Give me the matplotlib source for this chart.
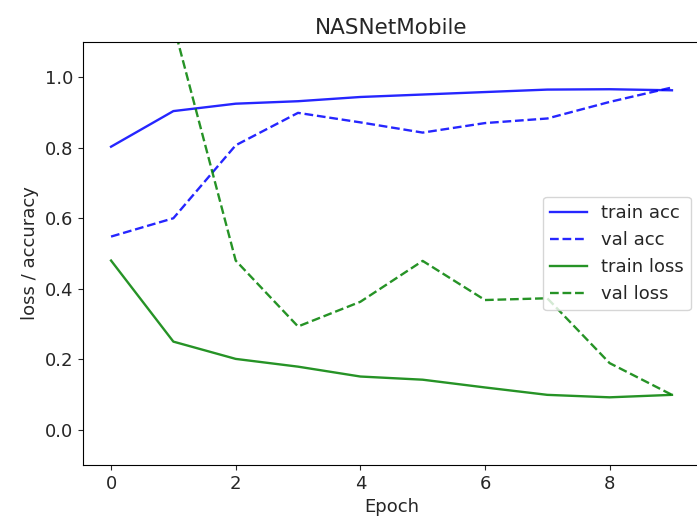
import matplotlib
matplotlib.use("Agg")
import matplotlib.pyplot as plt
import numpy as np

epochs = np.arange(10)
train_acc = [0.803, 0.904, 0.925, 0.932, 0.944, 0.951, 0.958, 0.965, 0.966, 0.963]
val_acc = [0.548, 0.600, 0.807, 0.899, 0.872, 0.843, 0.870, 0.883, 0.930, 0.971]
train_loss = [0.480, 0.250, 0.201, 0.179, 0.151, 0.142, 0.120, 0.099, 0.092, 0.099]
val_loss = [2.90, 1.15, 0.480, 0.293, 0.363, 0.479, 0.368, 0.373, 0.189, 0.099]

plt.rcParams.update({
    "font.family": "DejaVu Sans",
    "font.size": 13,
    "axes.titlesize": 15.5,
    "text.color": "#262626",
    "axes.labelcolor": "#262626",
    "xtick.color": "#262626",
    "ytick.color": "#262626",
})

fig = plt.figure(figsize=(6.97, 5.28), dpi=100)
W, H = 697, 528
ax = fig.add_axes([83 / W, (H - 465) / H, (700 - 83) / W, (465 - 42) / H])

lw = 1.7
ax.plot(epochs, train_acc, color="b", lw=lw, alpha=0.85, label="train acc")
ax.plot(epochs, val_acc, color="b", ls="--", lw=lw, alpha=0.85, label="val acc")
ax.plot(epochs, train_loss, color="g", lw=lw, alpha=0.85, label="train loss")
ax.plot(epochs, val_loss, color="g", ls="--", lw=lw, alpha=0.85, label="val loss")

ax.set_ylim(-0.1, 1.1)
ax.set_xlim(-0.45, 9.45)
ax.set_xticks([0, 2, 4, 6, 8])
ax.set_yticks([0.0, 0.2, 0.4, 0.6, 0.8, 1.0])
ax.set_title("NASNetMobile")
ax.set_xlabel("Epoch")
ax.set_ylabel("loss / accuracy")
ax.legend(loc="center right")

fig.savefig("out.png", dpi=100)
